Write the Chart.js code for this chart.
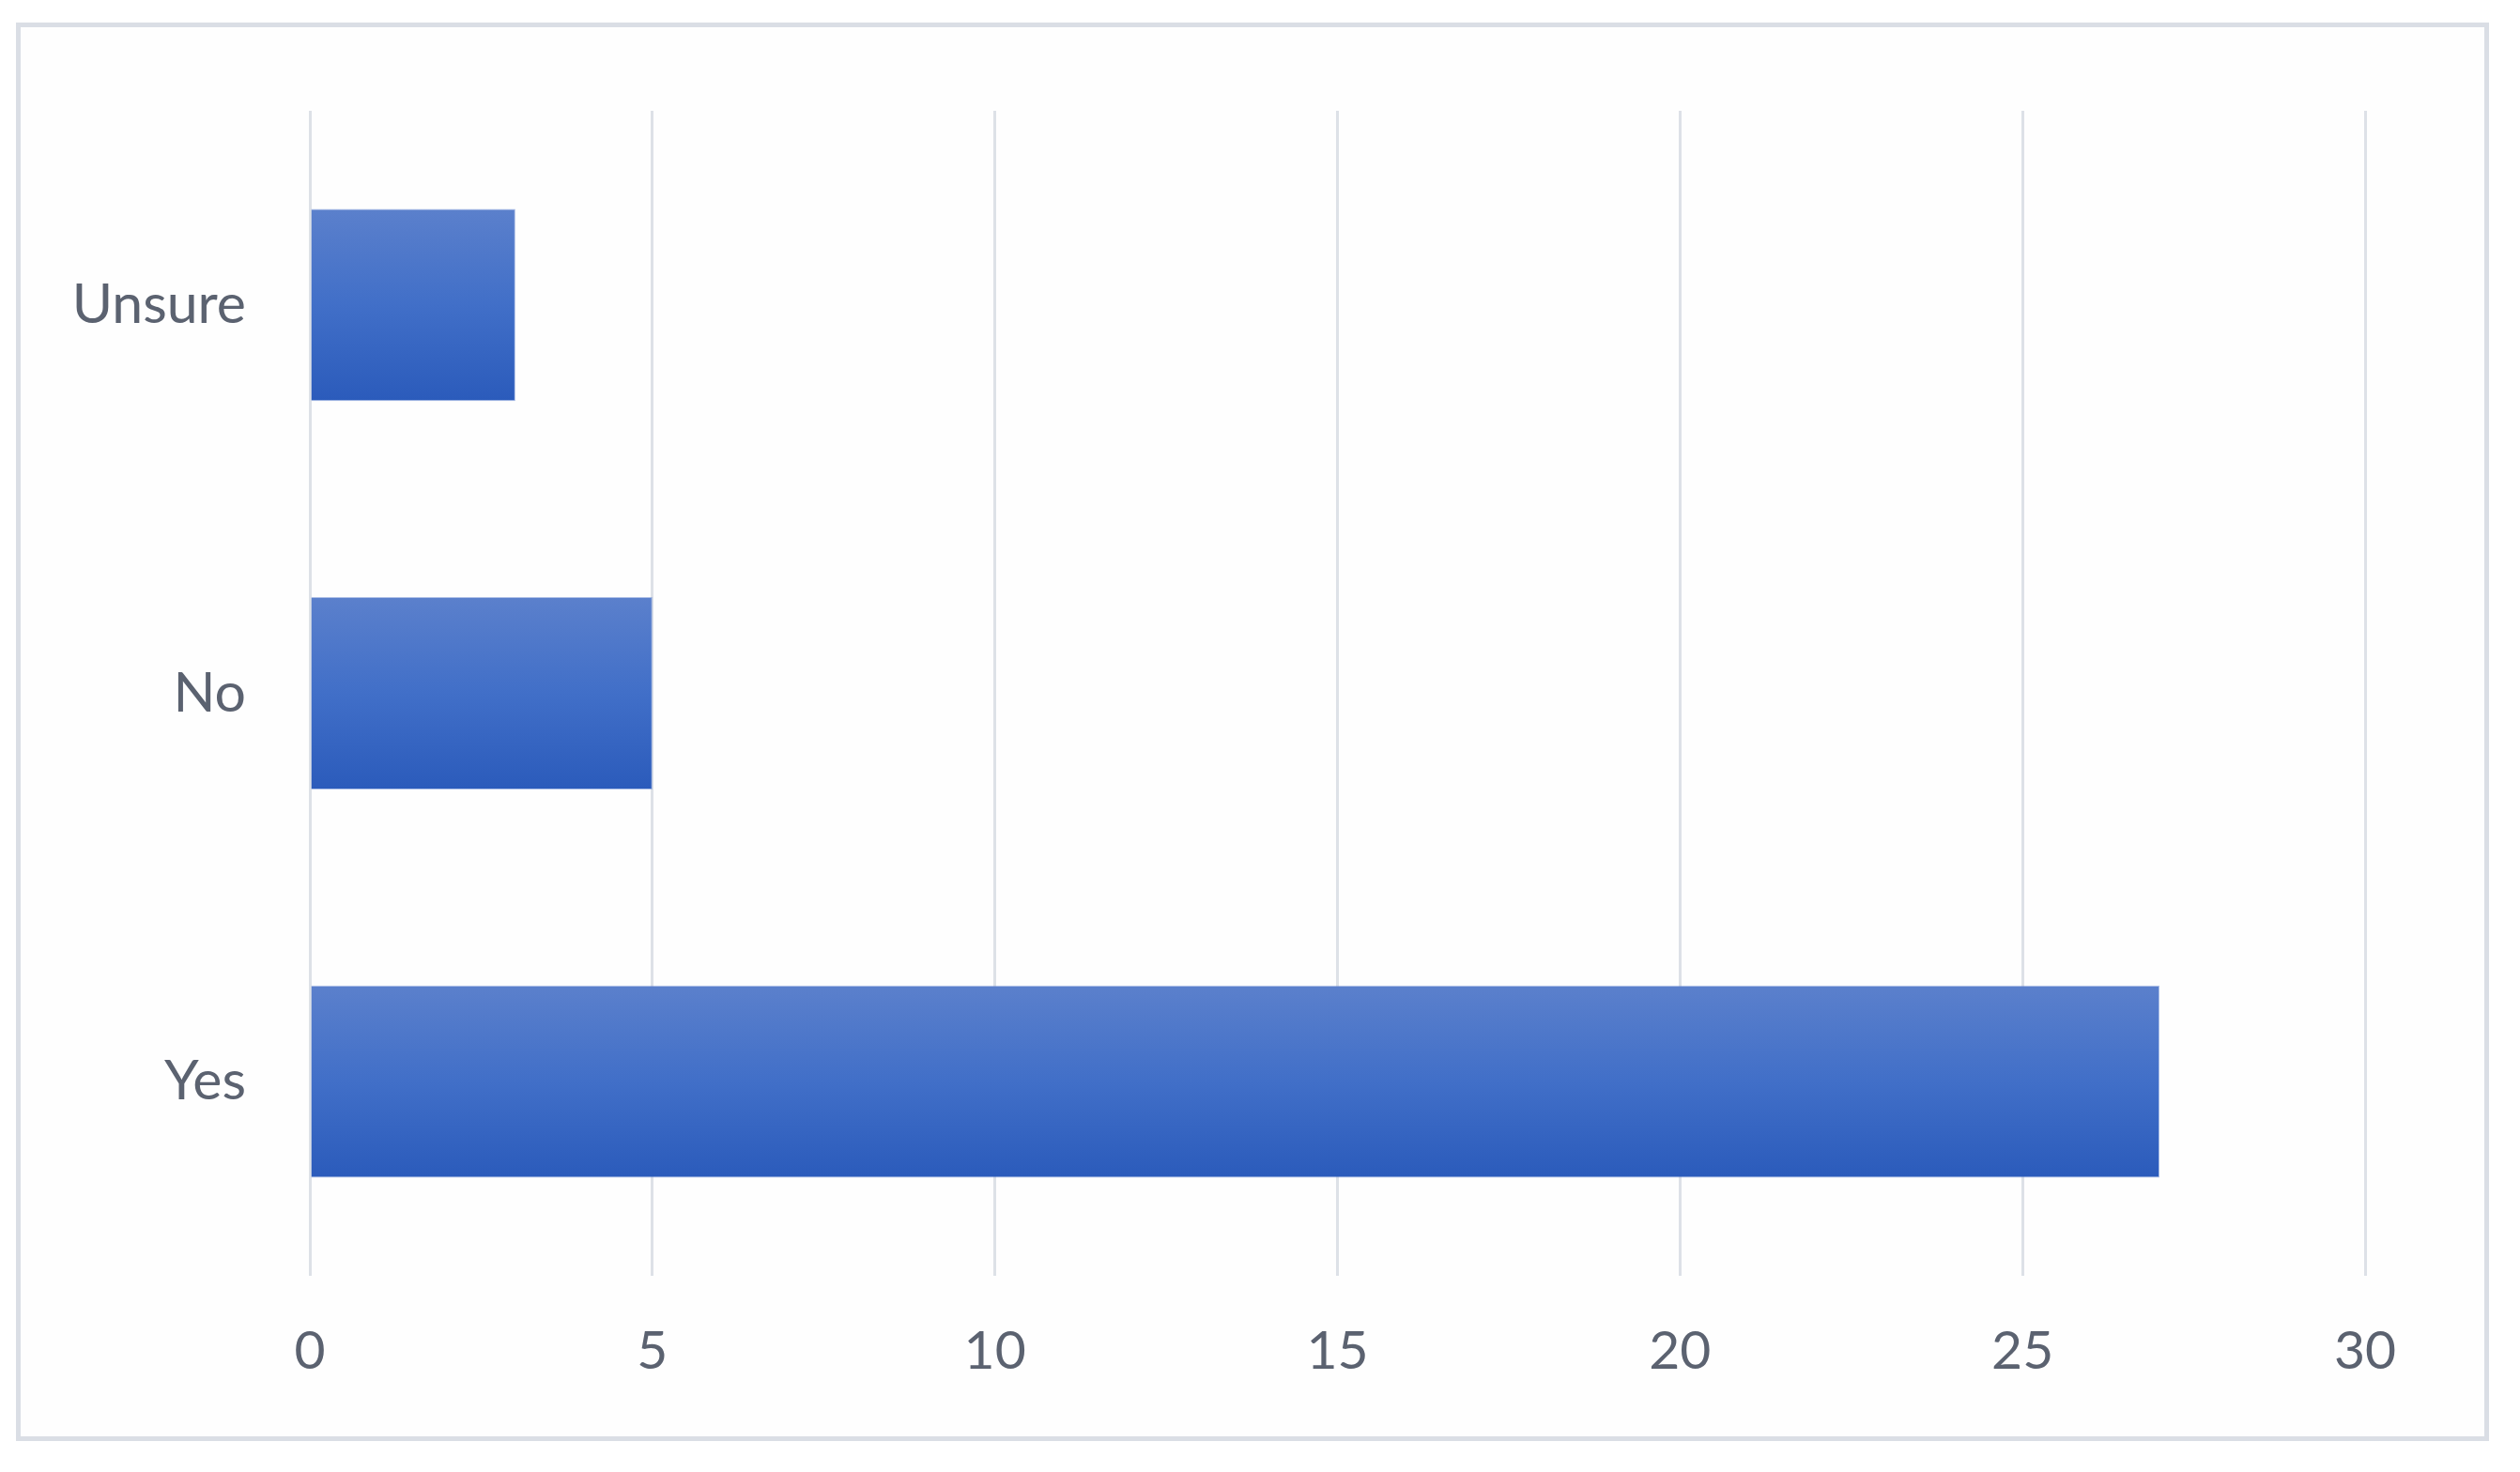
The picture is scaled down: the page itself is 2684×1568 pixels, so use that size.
<!DOCTYPE html>
<html>
<head>
<meta charset="utf-8">
<script src="https://cdn.jsdelivr.net/npm/chart.js@4/dist/chart.umd.min.js"></script>
<style>
  html, body { margin: 0; padding: 0; background: #ffffff; }
  #frame {
    position: absolute;
    left: 17px; top: 24px;
    width: 2634px; height: 1511px;
    box-sizing: border-box;
    border: 5px solid #dadee5;
    background: #fefefe;
  }
  #graph { display: block; }
</style>
</head>
<body>
<div id="frame"><canvas id="graph"></canvas></div>
<script>
// categories top to bottom
const answers = ["Unsure", "No", "Yes"];
const counts = [3, 5, 27];
const x_ticks = [0, 5, 10, 15, 20, 25, 30];

const bar_pct = 0.495;
const label_color = "#5b6270";
const grid_color = "#dde1e7";

// each bar gets its own top->bottom gradient like the excel fill
function barFill(ctx) {
  const chart = ctx.chart;
  const y = chart.scales.y;
  if (!chart.chartArea || !y || ctx.dataIndex === undefined) return "#4270c9";
  const c = y.getPixelForValue(ctx.dataIndex);
  const half = (y.height / answers.length) * bar_pct / 2;
  const g = chart.ctx.createLinearGradient(0, c - half, 0, c + half);
  g.addColorStop(0, "#5b80cc");
  g.addColorStop(0.5, "#416fc8");
  g.addColorStop(1, "#2b5bbb");
  return g;
}

let config = {
  type: "bar",
  data: {
    labels: answers,
    datasets: [
      {
        data: counts,
        backgroundColor: barFill,
        borderColor: "rgba(120,150,215,0.6)",
        borderWidth: 1,
        categoryPercentage: 1,
        barPercentage: bar_pct,
      },
    ],
  },
  options: {
    indexAxis: "y",
    responsive: true,
    maintainAspectRatio: false,
    animation: false,
    layout: { padding: { left: 0, right: 127, top: 89, bottom: 0 } },
    plugins: {
      legend: { display: false },
      tooltip: { enabled: false },
    },
    scales: {
      x: {
        min: 0,
        max: 30,
        afterBuildTicks: (s) => { s.ticks = x_ticks.map((v) => ({ value: v })); },
        afterFit: (s) => { s.height = 171; },
        border: { display: false },
        grid: { color: grid_color, lineWidth: 3, drawTicks: false },
        ticks: {
          color: label_color,
          padding: 46,
          font: { family: "Lato", size: 57 },
        },
      },
      y: {
        afterFit: (s) => {
          s.width = 308;
          // tick padding would otherwise push the plot top down
          s.paddingTop = 0;
          s.paddingBottom = 0;
        },
        border: { display: false },
        grid: { display: false, drawTicks: false },
        ticks: {
          color: label_color,
          padding: 68,
          font: { family: "Lato", size: 59 },
        },
      },
    },
  },
};

window.onload = () => {
  new Chart(document.getElementById("graph"), config);
};
</script>
</body>
</html>
